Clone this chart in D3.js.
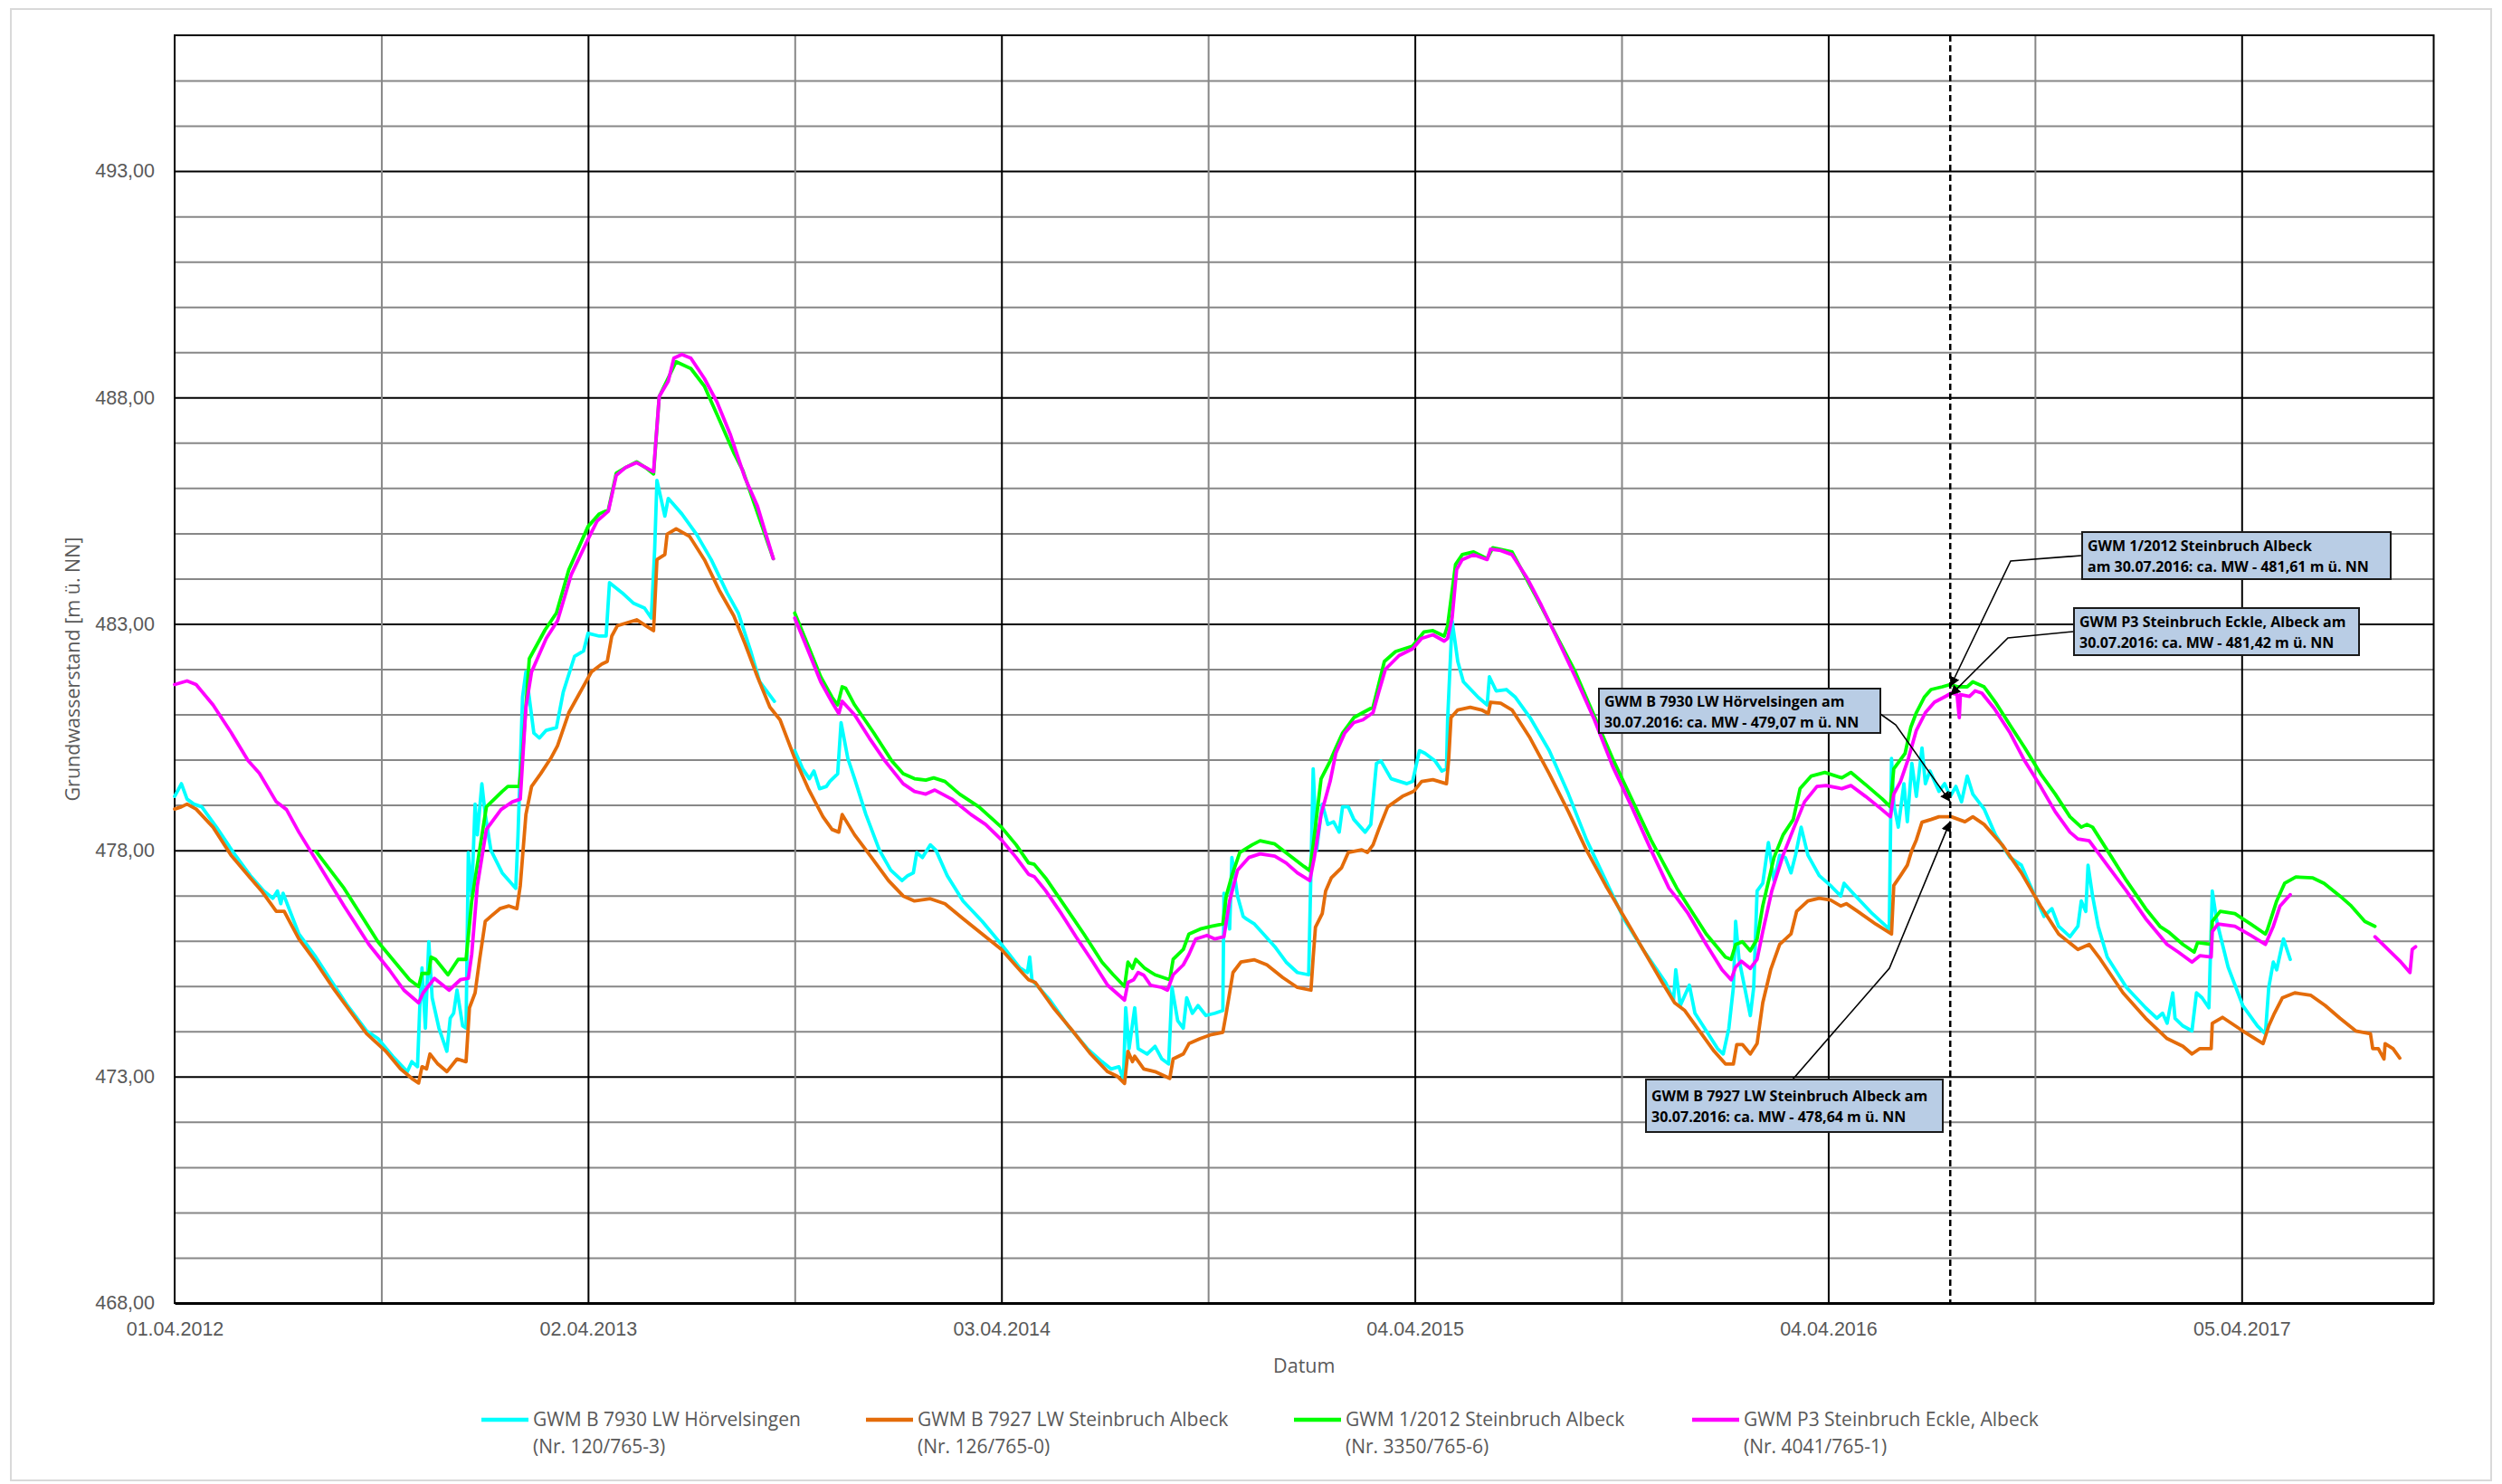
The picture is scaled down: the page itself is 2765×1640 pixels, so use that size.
<!DOCTYPE html>
<html>
<head>
<meta charset="utf-8">
<script src="https://cdn.jsdelivr.net/npm/d3@7"></script>
<style>
  body { margin: 0; background: #fff; }
  svg { display: block; font-family: "Open Sans", "Noto Sans", sans-serif; }
</style>
</head>
<body>
<div id="chart"></div>
<script>
// days are counted from 01.04.2012 (left edge of the axis)
const startDate = "2012-04-01";
const axisDays = 2000;
const xTickDates = ["2012-04-01", "2013-04-02", "2014-04-03", "2015-04-04", "2016-04-04", "2017-04-05"];
const yTicks = [468, 473, 478, 483, 488, 493];
const markerDay = 1572; // dashed line, 30.07.2016

const seriesNames = [
  ["GWM B 7930 LW Hörvelsingen", "(Nr. 120/765-3)"],
  ["GWM B 7927 LW Steinbruch Albeck", "(Nr. 126/765-0)"],
  ["GWM 1/2012 Steinbruch Albeck", "(Nr. 3350/765-6)"],
  ["GWM P3 Steinbruch Eckle, Albeck", "(Nr. 4041/765-1)"]
];

// [day, m ü. NN]; null = gap in the record
const hoervelsingen = [[0,479.19],[6,479.47],[11,479.13],[17,479.02],[24,478.96],[37,478.51],[52,477.95],[67,477.44],[79,477.1],[87,476.94],[91,477.1],[94,476.82],[96,477.05],[110,476.15],[125,475.64],[138,475.14],[153,474.57],[170,474.01],[180,473.84],[193,473.45],[206,473.11],[210,473.33],[215,473.22],[217,474.52],[219,475.4],[222,474.07],[225,475.98],[228,474.74],[234,474.07],[241,473.56],[244,474.29],[247,474.4],[250,474.91],[255,474.12],[258,474.07],[260,477.95],[263,476.99],[266,479.02],[268,478.34],[272,479.47],[275,478.79],[280,478.0],[290,477.5],[296,477.33],[302,477.16],[304,478.34],[308,481.38],[311,481.94],[318,480.59],[323,480.48],[329,480.65],[338,480.71],[344,481.49],[354,482.28],[362,482.4],[366,482.79],[376,482.73],[382,482.73],[385,483.91],[396,483.69],[406,483.46],[416,483.35],[422,483.13],[425,484.65],[427,486.17],[434,485.38],[437,485.77],[449,485.43],[462,484.98],[475,484.42],[489,483.69],[499,483.24],[510,482.4],[518,481.72],[531,481.29],
  null,
  [549,480.2],[556,479.8],[562,479.58],[566,479.75],[571,479.36],[577,479.41],[580,479.52],[587,479.69],[590,480.82],[596,480.03],[602,479.58],[612,478.79],[624,478.0],[634,477.56],[644,477.33],[649,477.44],[654,477.5],[657,477.95],[662,477.84],[669,478.12],[674,478.0],[684,477.44],[698,476.88],[715,476.43],[732,475.92],[748,475.41],[755,475.3],[757,475.64],[759,475.14],[775,474.69],[791,474.12],[808,473.62],[821,473.33],[829,473.17],[836,473.22],[840,472.94],[842,474.52],[845,473.62],[850,474.52],[853,473.62],[861,473.5],[868,473.67],[874,473.39],[880,473.28],[883,474.97],[888,474.24],[893,474.07],[896,474.74],[901,474.4],[906,474.57],[913,474.35],[921,474.4],[928,474.46],[929,477.05],[934,476.26],[936,477.84],[941,476.99],[946,476.54],[949,476.48],[956,476.37],[964,476.15],[974,475.87],[984,475.53],[994,475.3],[1004,475.25],[1008,479.8],[1011,478.0],[1016,479.02],[1021,478.57],
  [1026,478.63],[1031,478.4],[1034,478.96],[1039,478.96],[1044,478.68],[1054,478.4],[1059,478.57],[1064,479.92],[1068,479.97],[1077,479.58],[1091,479.47],[1096,479.52],[1102,480.2],[1107,480.14],[1116,479.97],[1122,479.75],[1126,479.8],[1127,480.88],[1131,483.07],[1136,482.17],[1141,481.72],[1154,481.38],[1162,481.21],[1164,481.83],[1170,481.52],[1179,481.55],[1187,481.38],[1200,480.93],[1217,480.2],[1234,479.24],[1250,478.23],[1267,477.33],[1283,476.49],[1300,475.81],[1320,475.08],[1327,474.69],[1329,475.36],[1333,474.57],[1341,475.02],[1346,474.4],[1356,474.01],[1366,473.62],[1371,473.5],[1376,474.07],[1380,474.97],[1382,476.43],[1385,475.59],[1390,474.97],[1395,474.35],[1398,474.97],[1401,477.1],[1406,477.27],[1411,478.17],[1416,477.33],[1421,477.89],[1426,477.84],[1431,477.5],[1435,477.89],[1440,478.51],[1446,477.89],[1456,477.44],[1466,477.22],[1475,476.99],[1478,477.27],[1486,477.05],[1503,476.6],[1518,476.26],
  [1520,480.03],[1522,479.02],[1526,478.51],[1531,479.47],[1534,478.63],[1538,479.92],[1542,479.19],[1547,480.26],[1550,479.47],[1554,479.75],[1562,479.3],[1567,479.47],[1572,479.19],[1577,479.41],[1582,479.07],[1587,479.64],[1592,479.24],[1602,478.91],[1612,478.34],[1625,477.84],[1635,477.67],[1645,477.1],[1655,476.54],[1662,476.71],[1668,476.32],[1678,476.09],[1685,476.32],[1688,476.88],[1692,476.65],[1694,477.67],[1698,476.99],[1703,476.32],[1711,475.64],[1728,474.97],[1745,474.52],[1755,474.29],[1760,474.4],[1764,474.18],[1769,474.85],[1771,474.29],[1778,474.12],[1786,474.01],[1790,474.85],[1795,474.74],[1801,474.52],[1804,477.1],[1808,476.43],[1818,475.42],[1831,474.57],[1844,474.12],[1851,473.95],[1854,474.97],[1858,475.53],[1861,475.36],[1867,476.04],[1873,475.59]];

const albeck7927 = [[0,478.91],[6,478.96],[11,479.02],[19,478.91],[34,478.51],[50,477.89],[67,477.39],[77,477.1],[90,476.65],[97,476.65],[110,476.04],[125,475.53],[140,474.97],[155,474.46],[170,473.95],[187,473.56],[200,473.17],[210,472.96],[216,472.86],[219,473.22],[223,473.17],[226,473.5],[233,473.28],[241,473.11],[250,473.39],[258,473.33],[261,474.52],[266,474.85],[270,475.59],[275,476.43],[280,476.54],[288,476.71],[296,476.77],[303,476.71],[306,477.22],[311,478.79],[316,479.41],[324,479.69],[333,480.03],[339,480.31],[349,481.04],[359,481.49],[369,481.94],[378,482.11],[383,482.17],[387,482.73],[392,482.96],[409,483.09],[417,482.96],[424,482.85],[427,484.42],[434,484.53],[436,484.98],[444,485.1],[456,484.93],[469,484.42],[482,483.75],[495,483.18],[505,482.56],[516,481.83],[527,481.16],[536,480.88],[549,480.03],[561,479.36],[574,478.74],[582,478.46],[588,478.4],[591,478.79],[602,478.34],[617,477.84],[632,477.33],[645,476.99],[655,476.88],[669,476.93],[682,476.82],[698,476.49],[715,476.15],[732,475.81],[748,475.36],[756,475.14],[762,475.08],[778,474.52],[795,474.01],[811,473.5],[826,473.11],[835,473.0],[841,472.85],[844,473.56],[848,473.33],[850,473.45],[858,473.17],[868,473.11],[881,472.96],[884,473.39],[893,473.5],[898,473.73],[908,473.84],[918,473.93],[928,473.98],[931,474.4],[937,475.3],[944,475.53],[956,475.58],[967,475.47],[981,475.19],[994,474.97],[1006,474.91],
  [1008,475.64],[1010,476.3],[1016,476.6],[1019,477.1],[1024,477.39],[1033,477.61],[1039,477.95],[1051,478.01],[1056,477.95],[1061,478.12],[1066,478.46],[1074,478.96],[1087,479.19],[1097,479.3],[1104,479.52],[1114,479.56],[1126,479.47],[1128,480.03],[1130,480.93],[1136,481.1],[1147,481.16],[1157,481.1],[1163,481.02],[1165,481.27],[1174,481.25],[1184,481.1],[1200,480.48],[1217,479.69],[1234,478.85],[1250,478.0],[1267,477.22],[1283,476.54],[1300,475.81],[1317,475.08],[1328,474.63],[1337,474.46],[1350,474.01],[1363,473.56],[1373,473.28],[1380,473.28],[1383,473.71],[1388,473.71],[1395,473.5],[1401,473.73],[1406,474.63],[1413,475.36],[1421,475.92],[1431,476.15],[1436,476.65],[1446,476.88],[1456,476.94],[1466,476.9],[1475,476.77],[1480,476.82],[1490,476.65],[1506,476.37],[1520,476.15],
  [1522,477.22],[1528,477.44],[1534,477.67],[1538,478.0],[1542,478.23],[1547,478.62],[1555,478.68],[1562,478.74],[1568,478.74],[1573,478.74],[1585,478.63],[1592,478.74],[1602,478.57],[1618,478.12],[1635,477.5],[1652,476.77],[1668,476.15],[1685,475.81],[1695,475.92],[1705,475.59],[1725,474.85],[1745,474.29],[1764,473.84],[1778,473.67],[1786,473.5],[1793,473.62],[1803,473.62],[1804,474.18],[1813,474.31],[1831,474.01],[1849,473.73],[1854,474.12],[1859,474.4],[1866,474.74],[1877,474.85],[1891,474.8],[1904,474.57],[1917,474.29],[1931,474.01],[1944,473.95],[1946,473.62],[1951,473.62],[1956,473.39],[1957,473.73],[1964,473.62],[1970,473.41]];

const albeck2012 = [[125,477.98],[150,477.16],[180,475.98],[197,475.47],[208,475.14],[216,474.99],[219,475.28],[225,475.28],[227,475.64],[231,475.59],[242,475.25],[251,475.59],[258,475.59],[263,476.88],[270,478.0],[276,478.96],[290,479.3],[295,479.41],[305,479.41],[308,480.14],[314,482.23],[328,482.87],[338,483.24],[349,484.2],[366,485.15],[376,485.43],[384,485.52],[391,486.33],[399,486.45],[409,486.58],[417,486.45],[424,486.31],[429,488.02],[444,488.79],[457,488.64],[469,488.25],[482,487.52],[495,486.78],[503,486.39],[530,484.44],
  null,
  [549,483.24],[561,482.51],[572,481.83],[582,481.38],[587,481.21],[591,481.61],[594,481.58],[602,481.21],[619,480.59],[635,479.97],[645,479.69],[655,479.58],[665,479.55],[672,479.6],[682,479.52],[695,479.24],[712,478.96],[732,478.51],[745,478.12],[756,477.72],[761,477.69],[771,477.39],[788,476.77],[805,476.15],[821,475.53],[831,475.25],[841,474.99],[844,475.53],[848,475.39],[851,475.59],[859,475.39],[868,475.25],[881,475.14],[884,475.59],[893,475.81],[898,476.15],[908,476.26],[918,476.32],[928,476.37],[931,476.99],[936,477.44],[943,477.95],[954,478.12],[961,478.21],[974,478.14],[987,477.89],[1000,477.64],[1005,477.55],[1008,478.12],[1015,479.58],[1023,479.97],
  [1028,480.26],[1034,480.59],[1044,480.93],[1052,481.04],[1061,481.16],[1071,482.17],[1081,482.39],[1096,482.51],[1106,482.82],[1114,482.85],[1124,482.73],[1127,482.96],[1134,484.31],[1140,484.53],[1150,484.59],[1162,484.44],[1167,484.68],[1184,484.59],[1207,483.52],[1240,481.94],[1273,480.03],[1290,479.13],[1307,478.23],[1330,477.16],[1340,476.77],[1356,476.15],[1373,475.64],[1378,475.59],[1382,475.92],[1388,475.98],[1395,475.78],[1401,476.04],[1406,476.77],[1416,477.84],[1424,478.34],[1433,478.68],[1439,479.36],[1449,479.64],[1461,479.72],[1476,479.6],[1484,479.72],[1499,479.41],[1512,479.13],[1519,478.96],
  [1522,479.8],[1527,479.97],[1532,480.14],[1537,480.71],[1542,481.04],[1549,481.38],[1555,481.55],[1565,481.61],[1572,481.66],[1579,481.61],[1587,481.61],[1592,481.72],[1602,481.61],[1612,481.27],[1625,480.76],[1638,480.26],[1652,479.69],[1665,479.24],[1678,478.74],[1688,478.51],[1693,478.57],[1698,478.51],[1711,478.0],[1728,477.33],[1745,476.71],[1758,476.31],[1766,476.18],[1778,475.92],[1788,475.75],[1791,475.96],[1803,475.92],[1804,476.43],[1811,476.65],[1824,476.6],[1838,476.37],[1851,476.15],[1853,476.26],[1861,476.88],[1868,477.27],[1878,477.41],[1893,477.39],[1903,477.27],[1917,476.99],[1927,476.77],[1939,476.43],[1948,476.32]];

const eckleP3 = [[0,481.66],[11,481.74],[19,481.66],[34,481.21],[50,480.6],[65,479.98],[75,479.7],[90,479.07],[99,478.9],[110,478.4],[128,477.67],[150,476.77],[172,475.92],[190,475.36],[203,474.91],[216,474.63],[220,474.85],[230,475.17],[243,474.91],[253,475.14],[260,475.17],[263,475.7],[268,477.22],[276,478.46],[289,478.9],[299,479.07],[306,479.13],[311,481.16],[316,481.94],[329,482.68],[339,483.07],[351,484.08],[366,484.87],[374,485.27],[384,485.49],[391,486.28],[399,486.45],[409,486.56],[416,486.47],[424,486.36],[429,488.02],[437,488.36],[442,488.87],[449,488.95],[457,488.87],[469,488.42],[480,487.91],[492,487.18],[505,486.22],[516,485.6],[530,484.44],
  null,
  [549,483.13],[561,482.4],[572,481.72],[582,481.27],[588,481.02],[591,481.29],[602,480.99],[615,480.48],[629,479.97],[645,479.47],[655,479.3],[665,479.24],[673,479.33],[688,479.13],[705,478.79],[718,478.57],[732,478.23],[745,477.84],[756,477.47],[761,477.42],[771,477.11],[785,476.6],[798,476.09],[813,475.53],[826,475.02],[841,474.69],[844,475.08],[849,475.14],[853,475.3],[858,475.24],[864,475.02],[874,474.97],[879,474.91],[884,475.25],[893,475.47],[898,475.7],[904,476.04],[914,476.12],[921,476.04],[929,476.09],[934,476.88],[941,477.56],[951,477.84],[961,477.92],[974,477.87],[984,477.72],[994,477.5],[1005,477.33],[1009,477.84],[1015,478.79],[1023,479.52],
  [1028,480.14],[1036,480.59],[1044,480.82],[1052,480.88],[1061,481.04],[1066,481.49],[1072,482.0],[1084,482.3],[1096,482.45],[1104,482.68],[1114,482.76],[1124,482.62],[1127,482.68],[1131,483.13],[1135,484.2],[1140,484.42],[1150,484.53],[1162,484.42],[1165,484.65],[1174,484.62],[1184,484.53],[1197,484.03],[1210,483.41],[1224,482.68],[1240,481.83],[1257,480.88],[1273,479.86],[1290,478.96],[1307,478.01],[1323,477.16],[1330,476.94],[1340,476.6],[1356,475.92],[1370,475.36],[1378,475.14],[1382,475.42],[1387,475.55],[1395,475.39],[1401,475.59],[1406,476.2],[1414,477.1],[1424,477.89],[1433,478.46],[1443,479.07],[1454,479.41],[1462,479.43],[1476,479.36],[1484,479.43],[1497,479.19],[1511,478.91],[1519,478.74],
  [1522,479.24],[1528,479.52],[1535,480.03],[1542,480.65],[1550,481.04],[1558,481.27],[1568,481.4],[1573,481.47],[1578,481.44],[1580,480.93],[1581,481.44],[1589,481.4],[1594,481.52],[1600,481.47],[1611,481.13],[1625,480.59],[1638,479.97],[1652,479.41],[1665,478.85],[1678,478.4],[1685,478.25],[1695,478.21],[1711,477.67],[1728,477.1],[1745,476.49],[1764,475.92],[1774,475.75],[1786,475.53],[1793,475.67],[1803,475.64],[1804,476.2],[1809,476.37],[1824,476.32],[1838,476.12],[1851,475.92],[1858,476.32],[1864,476.77],[1873,477.02],
  null,
  [1948,476.09],[1957,475.87],[1971,475.53],[1979,475.3],[1981,475.81],[1984,475.87]];

const seriesData = [hoervelsingen, albeck7927, albeck2012, eckleP3];
const seriesColors = ["#00FFFF", "#E46C0A", "#00FF00", "#FF00FF"];

// labelled values at the dashed line (series index, value, text)
const callouts = [
  {s: 0, value: 479.07, text: ["GWM B 7930 LW Hörvelsingen am", "30.07.2016: ca. MW - 479,07 m ü. NN"]},
  {s: 1, value: 478.64, text: ["GWM B 7927 LW Steinbruch Albeck am", "30.07.2016: ca. MW - 478,64 m ü. NN"]},
  {s: 2, value: 481.61, text: ["GWM 1/2012 Steinbruch Albeck", "am 30.07.2016: ca. MW - 481,61 m ü. NN"]},
  {s: 3, value: 481.42, text: ["GWM P3 Steinbruch Eckle, Albeck am", "30.07.2016: ca. MW - 481,42 m ü. NN"]}
];
// box placement and leader elbows, in page pixels
const calloutLayout = [
  {box: [1767, 761, 311, 49], leader: [[2078, 789], [2095, 801]]},
  {box: [1819, 1193, 328, 58], leader: [[1981, 1193], [2088, 1070]]},
  {box: [2301, 588, 341, 52], leader: [[2300, 614], [2222, 620]]},
  {box: [2292, 672, 315, 52], leader: [[2291, 698], [2219, 705]]}
];

const width = 2765, height = 1640;
const margin = {left: 193, right: 2689.5, top: 39, bottom: 1440};

const parse = d3.timeParse("%Y-%m-%d");
const start = parse(startDate);
const dayToDate = d => d3.timeDay.offset(start, d);

const x = d3.scaleTime()
  .domain([start, dayToDate(axisDays)])
  .range([margin.left, margin.right]);
const y = d3.scaleLinear()
  .domain([468, 496])
  .range([margin.bottom, margin.top]);

const de = d3.formatLocale({decimal: ",", thousands: ".", grouping: [3], currency: ["", " €"]});
const fmtY = de.format(".2f");

const svg = d3.select("#chart").append("svg")
  .attr("width", width)
  .attr("height", height);

// chart area frame
svg.append("rect")
  .attr("x", 12).attr("y", 10)
  .attr("width", width - 24).attr("height", 1626)
  .attr("fill", "#fff")
  .attr("stroke", "#d9d9d9")
  .attr("stroke-width", 2);

const plotW = margin.right - margin.left;
const plotH = margin.bottom - margin.top;

// horizontal grid, every 1 m, black every 5 m
const yGrid = d3.axisLeft(y)
  .tickValues(d3.range(469, 496, 1))
  .tickSize(-plotW)
  .tickFormat("");
svg.append("g")
  .attr("transform", `translate(${margin.left},0)`)
  .call(yGrid)
  .call(g => g.select(".domain").remove())
  .call(g => g.selectAll(".tick line")
    .attr("stroke", d => (d - 468) % 5 === 0 ? "#000" : "#878787")
    .attr("stroke-width", 2));

// vertical grid, every 183 days, black every 366 days
const xGridDays = d3.range(183, axisDays, 183);
const xGrid = d3.axisBottom(x)
  .tickValues(xGridDays.map(dayToDate))
  .tickSize(-plotH)
  .tickFormat("");
svg.append("g")
  .attr("transform", `translate(0,${margin.bottom})`)
  .call(xGrid)
  .call(g => g.select(".domain").remove())
  .call(g => g.selectAll(".tick line")
    .attr("stroke", (d, i) => i % 2 === 1 ? "#000" : "#878787")
    .attr("stroke-width", 2));

// plot frame
svg.append("rect")
  .attr("x", margin.left).attr("y", margin.top)
  .attr("width", plotW).attr("height", plotH)
  .attr("fill", "none")
  .attr("stroke", "#000")
  .attr("stroke-width", 2);

// y axis labels
svg.append("g")
  .attr("transform", `translate(${margin.left},0)`)
  .call(d3.axisLeft(y).tickValues(yTicks).tickSize(0).tickPadding(22).tickFormat(fmtY))
  .call(g => g.select(".domain").remove())
  .call(g => g.selectAll("text")
    .attr("fill", "#595959")
    .style("font-size", "21.5px"));

// x axis labels
svg.append("g")
  .attr("transform", `translate(0,${margin.bottom})`)
  .call(d3.axisBottom(x).tickValues(xTickDates.map(parse)).tickSize(0).tickPadding(21)
    .tickFormat(d3.timeFormat("%d.%m.%Y")))
  .call(g => g.select(".domain")
    .attr("stroke", "#000")
    .attr("stroke-width", 3))
  .call(g => g.selectAll("text")
    .attr("fill", "#595959")
    .style("font-size", "21.5px"));

// axis titles
svg.append("text")
  .attr("x", (margin.left + margin.right) / 2)
  .attr("y", 1517)
  .attr("text-anchor", "middle")
  .attr("fill", "#595959")
  .style("font-size", "21.5px")
  .text("Datum");

svg.append("text")
  .attr("transform", `translate(79,${(margin.top + margin.bottom) / 2}) rotate(-90)`)
  .attr("text-anchor", "middle")
  .attr("dominant-baseline", "central")
  .attr("fill", "#595959")
  .style("font-size", "21.5px")
  .text("Grundwasserstand [m ü. NN]");

// series
const line = d3.line()
  .defined(d => d !== null)
  .x(d => x(dayToDate(d[0])))
  .y(d => y(d[1]));

svg.append("g")
  .selectAll("path")
  .data(seriesData)
  .join("path")
  .attr("d", line)
  .attr("fill", "none")
  .attr("stroke", (d, i) => seriesColors[i])
  .attr("stroke-width", 3.8)
  .attr("stroke-linejoin", "round")
  .attr("stroke-linecap", "round");

// dashed marker line
svg.append("line")
  .attr("x1", x(dayToDate(markerDay))).attr("x2", x(dayToDate(markerDay)))
  .attr("y1", margin.top).attr("y2", margin.bottom)
  .attr("stroke", "#000")
  .attr("stroke-width", 2.5)
  .attr("stroke-dasharray", "7,4");

// callouts
svg.append("defs").append("marker")
  .attr("id", "arrow")
  .attr("viewBox", "0 0 10 10")
  .attr("refX", 10).attr("refY", 5)
  .attr("markerWidth", 7).attr("markerHeight", 7)
  .attr("markerUnits", "strokeWidth")
  .attr("orient", "auto")
  .append("path")
  .attr("d", "M0,0L10,5L0,10z")
  .attr("fill", "#000");

const cg = svg.append("g");
callouts.forEach((c, i) => {
  const lay = calloutLayout[i];
  const tip = [x(dayToDate(markerDay)), y(c.value)];
  cg.append("path")
    .attr("d", d3.line()([...lay.leader, tip]))
    .attr("fill", "none")
    .attr("stroke", "#000")
    .attr("stroke-width", 1.6)
    .attr("marker-end", "url(#arrow)");
  const [bx, by, bw, bh] = lay.box;
  cg.append("rect")
    .attr("x", bx).attr("y", by)
    .attr("width", bw).attr("height", bh)
    .attr("fill", "#B9CDE5")
    .attr("stroke", "#1a1a1a")
    .attr("stroke-width", 2);
  c.text.forEach((t, k) => {
    cg.append("text")
      .attr("x", bx + 6)
      .attr("y", by + bh / 2 + (k === 0 ? -11 : 12))
      .attr("dominant-baseline", "central")
      .attr("fill", "#000")
      .style("font-size", "16px")
      .style("font-weight", "bold")
      .text(t);
  });
});

// legend
const legendX = [532, 957, 1430, 1870];
const lg = svg.append("g")
  .selectAll("g")
  .data(seriesNames)
  .join("g")
  .attr("transform", (d, i) => `translate(${legendX[i]},1569)`);
lg.append("line")
  .attr("x1", 0).attr("x2", 52)
  .attr("stroke", (d, i) => seriesColors[i])
  .attr("stroke-width", 4.5);
lg.append("text")
  .attr("x", 57).attr("y", 7)
  .attr("fill", "#595959")
  .style("font-size", "21px")
  .text(d => d[0]);
lg.append("text")
  .attr("x", 57).attr("y", 37)
  .attr("fill", "#595959")
  .style("font-size", "21px")
  .text(d => d[1]);
</script>
</body>
</html>
